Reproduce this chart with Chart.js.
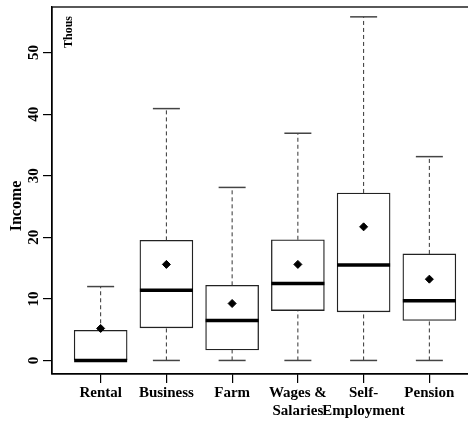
<!DOCTYPE html>
<html>
<head>
<meta charset="utf-8">
<script src="https://cdn.jsdelivr.net/npm/chart.js@4/dist/chart.umd.min.js"></script>
<style>
  html, body { margin: 0; padding: 0; overflow: hidden; background: #fff; }
  canvas { display: block; }
</style>
</head>
<body>
<canvas id="boxChart" width="478" height="422"></canvas>
<script>
const categories = ["Rental", "Business", "Farm", ["Wages &", "Salaries"], ["Self-", "Employment"], "Pension"];
const whiskerLow = [0, 0, 0, 0, 0, 0];
const q1 = [0, 5.3, 1.7, 8.1, 7.9, 6.5];
const median = [0, 11.4, 6.5, 12.5, 15.5, 9.7];
const q3 = [4.9, 19.5, 12.2, 19.6, 27.2, 17.3];
const whiskerHigh = [12.0, 40.9, 28.1, 36.9, 55.8, 33.1];
const mean = [5.2, 15.6, 9.25, 15.6, 21.7, 13.2];
const yTicks = [0, 10, 20, 30, 40, 50];

const serif = "'Liberation Serif', 'DejaVu Serif', serif";

// whisker segments, split by gaps
const whiskerPts = [];
categories.forEach(function (c, i) {
  const x = i + 1;
  whiskerPts.push({ x: x, y: q3[i] }, { x: x, y: whiskerHigh[i] }, { x: x, y: null });
  whiskerPts.push({ x: x, y: whiskerLow[i] }, { x: x, y: q1[i] }, { x: x, y: null });
});

const capPts = [];
categories.forEach(function (c, i) {
  capPts.push({ x: i + 1, y: whiskerHigh[i] }, { x: i + 1, y: whiskerLow[i] });
});

const framePlugin = {
  id: "frame",
  afterDraw(chart) {
    const ctx = chart.ctx;
    const a = chart.chartArea;
    ctx.save();
    ctx.strokeStyle = "#000";
    ctx.lineWidth = 1.3;
    ctx.strokeRect(a.left, a.top, a.right - a.left - 1, a.bottom - a.top);

    ctx.fillStyle = "#000";
    ctx.font = "bold 12px " + serif;
    ctx.translate(a.left + 17, a.top + 9);
    ctx.rotate(-Math.PI / 2);
    ctx.textAlign = "right";
    ctx.textBaseline = "middle";
    ctx.fillText("Thous", 0, 0);
    ctx.restore();

    ctx.save();
    ctx.fillStyle = "#000";
    ctx.font = "bold 16px " + serif;
    ctx.translate(17, 206);
    ctx.rotate(-Math.PI / 2);
    ctx.textAlign = "center";
    ctx.textBaseline = "middle";
    ctx.fillText("Income", 0, 0);
    ctx.restore();
  }
};

new Chart(document.getElementById("boxChart"), {
  type: "bar",
  data: {
    datasets: [
      {
        type: "line",
        data: mean.map((v, i) => ({ x: i + 1, y: v })),
        showLine: false,
        pointStyle: "rectRot",
        pointRadius: 4,
        backgroundColor: "#000",
        borderColor: "#000",
        borderWidth: 1,
        order: 0
      },
      {
        type: "line",
        data: median.map((v, i) => ({ x: i + 1, y: v })),
        showLine: false,
        pointStyle: "line",
        pointRadius: 26.5,
        borderColor: "#000",
        borderWidth: 3.5,
        order: 1
      },
      {
        type: "line",
        data: capPts,
        showLine: false,
        pointStyle: "line",
        pointRadius: 13.5,
        borderColor: "#444",
        borderWidth: 1.5,
        order: 2
      },
      {
        type: "line",
        data: whiskerPts,
        spanGaps: false,
        borderColor: "#333",
        borderWidth: 1,
        borderDash: [4, 3],
        pointRadius: 0,
        order: 3
      },
      {
        type: "bar",
        data: q1.map((v, i) => ({ x: i + 1, y: [v, q3[i]] })),
        backgroundColor: "#fff",
        borderColor: "#222",
        borderWidth: 1.3,
        borderSkipped: false,
        barThickness: 53,
        order: 4
      }
    ]
  },
  options: {
    responsive: false,
    animation: false,
    layout: { autoPadding: false, padding: { top: 7, right: 0, left: 0, bottom: 0 } },
    plugins: { legend: { display: false }, tooltip: { enabled: false } },
    scales: {
      x: {
        type: "linear",
        offset: false,
        min: 0.26,
        max: 6.74,
        afterBuildTicks: function (scale) {
          scale.ticks = categories.map((c, i) => ({ value: i + 1 }));
        },
        afterFit: function (scale) {
          scale.height = 48;
          scale.paddingLeft = 0;
          scale.paddingRight = 0;
        },
        ticks: {
          color: "#000",
          padding: 1,
          maxRotation: 0,
          autoSkip: false,
          font: { family: serif, size: 15, weight: "bold", lineHeight: 1.2 },
          callback: function (v) { return categories[Math.round(v) - 1]; }
        },
        grid: { offset: false, drawOnChartArea: false, drawTicks: true, tickLength: 9, color: "#000", lineWidth: 1.2 },
        border: { display: true, color: "#000", width: 1.3 }
      },
      y: {
        type: "linear",
        min: -2.2,
        max: 57.4,
        afterBuildTicks: function (scale) {
          scale.ticks = yTicks.map(v => ({ value: v }));
        },
        afterFit: function (scale) {
          scale.width = 52;
          scale.paddingTop = 0;
          scale.paddingBottom = 0;
        },
        ticks: {
          color: "#000",
          padding: 1,
          minRotation: 90,
          maxRotation: 90,
          crossAlign: "center",
          font: { family: serif, size: 15, weight: "bold" }
        },
        grid: { drawOnChartArea: false, drawTicks: true, tickLength: 9, color: "#000", lineWidth: 1.2 },
        border: { display: true, color: "#000", width: 1.3 }
      }
    }
  },
  plugins: [framePlugin]
});
</script>
</body>
</html>
